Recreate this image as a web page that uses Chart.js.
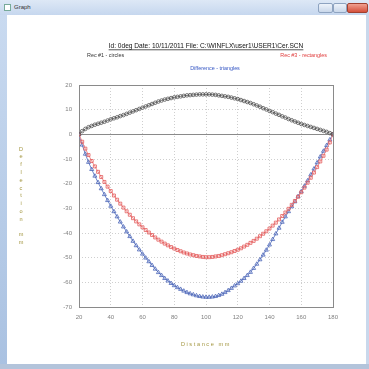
<!DOCTYPE html>
<html><head><meta charset="utf-8">
<script src="https://cdn.jsdelivr.net/npm/chart.js@4.4.1/dist/chart.umd.min.js"></script>
<style>
html,body{margin:0;padding:0;width:369px;height:369px;overflow:hidden;background:#fff;font-family:"Liberation Sans",Arial,sans-serif;}
#titlebar{position:absolute;left:0;top:0;width:369px;height:15px;background:linear-gradient(#dde8f6,#c6d7ee);}
#tbtext{position:absolute;left:14px;top:4px;font-size:6px;color:#333;}
#icon{position:absolute;left:4px;top:4px;width:5px;height:5px;border:1px solid #7a9;background:#fff;}
.btn{position:absolute;top:3px;height:8px;border:1px solid #8ea3c0;border-radius:2px;background:linear-gradient(#eef3fa,#c9d7ea);}
#lframe{position:absolute;left:0;top:15px;width:7px;height:354px;background:linear-gradient(#c9daf0,#a9c1e1);}
#rframe{position:absolute;left:366px;top:15px;width:3px;height:354px;background:#c9d8ec;}
#bframe{position:absolute;left:0;top:364px;width:369px;height:5px;background:#b3c4db;}
canvas{position:absolute;left:0;top:0;}
</style></head>
<body>
<div id="titlebar"><div id="icon"></div><div id="tbtext">Graph</div>
<div class="btn" style="left:318px;width:13px"></div>
<div class="btn" style="left:333px;width:12px"></div>
<div class="btn" style="left:347px;width:19px;background:linear-gradient(#f0a090,#d4503c);border-color:#a04030"></div>
</div>
<div id="lframe"></div><div id="rframe"></div><div id="bframe"></div>
<canvas id="c" width="369" height="369"></canvas>
<script>
const titleText = "Id: 0deg Date: 10/11/2011 File: C:\\WINFLX\\user1\\USER1\\Cer.SCN";
const seriesNames = ["Rec #1 - circles", "Rec #3 - rectangles", "Difference - triangles"];
const xTitle = "Distance mm";
const yTitle = "Deflection mm";

const distance = [20,22,24,26,28,30,32,34,36,38,40,42,44,46,48,50,52,54,56,58,60,62,64,66,68,70,72,74,76,78,80,82,84,86,88,90,92,94,96,98,100,102,104,106,108,110,112,114,116,118,120,122,124,126,128,130,132,134,136,138,140,142,144,146,148,150,152,154,156,158,160,162,164,166,168,170,172,174,176,178,180];

const rec1 = [0,1.3,2.2,2.9,3.4,3.9,4.3,4.7,5.1,5.6,
6.1,6.5,6.9,7.4,7.8,8.3,8.8,9.3,9.8,10.3,
10.8,11.3,11.8,12.3,12.8,13.3,13.7,14.1,14.4,14.7,
15.0,15.2,15.4,15.6,15.8,15.9,16.0,16.1,16.2,16.2,
16.2,16.2,16.1,16.0,15.8,15.6,15.4,15.2,14.9,14.6,
14.3,13.9,13.5,13.1,12.7,12.2,11.7,11.2,10.6,10.1,
9.5,9.0,8.4,7.9,7.3,6.8,6.2,5.7,5.2,4.7,
4.2,3.8,3.4,3.0,2.6,2.2,1.8,1.4,1.0,0.5,
0];

const rec3 = [0,-3.0,-5.8,-8.4,-10.8,-13.0,-15.2,-17.3,-19.3,-21.2,
-23.0,-24.8,-26.5,-28.1,-29.7,-31.2,-32.6,-34.0,-35.3,-36.5,
-37.7,-38.8,-39.8,-40.8,-41.8,-42.7,-43.5,-44.3,-45.0,-45.7,
-46.3,-46.9,-47.4,-47.9,-48.3,-48.7,-49.0,-49.3,-49.5,-49.7,
-49.8,-49.8,-49.7,-49.5,-49.3,-49.0,-48.6,-48.2,-47.8,-47.3,
-46.8,-46.2,-45.5,-44.8,-44.0,-43.2,-42.3,-41.3,-40.3,-39.3,
-38.2,-37.0,-35.8,-34.5,-33.1,-31.7,-30.2,-28.6,-27.0,-25.3,
-23.5,-21.6,-19.6,-17.6,-15.5,-13.3,-11.0,-8.7,-6.2,-3.3,
0];

const difference = [0,-4.3,-8.0,-11.3,-14.2,-16.9,-19.5,-22.0,-24.4,-26.8,
-29.1,-31.3,-33.4,-35.5,-37.5,-39.5,-41.4,-43.3,-45.1,-46.8,
-48.5,-50.1,-51.6,-53.1,-54.6,-56.0,-57.2,-58.4,-59.4,-60.4,
-61.3,-62.1,-62.8,-63.5,-64.1,-64.6,-65.0,-65.4,-65.7,-65.9,
-66.0,-66.0,-65.9,-65.7,-65.3,-64.8,-64.1,-63.3,-62.4,-61.4,
-60.5,-59.5,-58.4,-57.2,-55.9,-54.3,-52.6,-50.8,-48.9,-46.9,
-44.8,-42.6,-40.3,-38.0,-35.6,-33.4,-31.3,-29.3,-27.3,-25.2,
-23.2,-21.0,-18.8,-16.4,-14.0,-11.5,-9.1,-6.8,-4.5,-2.2,
0];

const FONT = '"Liberation Sans", Arial, sans-serif';
const olive = '#a39640';

const framePlugin = {
  id: 'frame',
  beforeDatasetsDraw(chart) {
    const ctx = chart.ctx, a = chart.chartArea;
    const y0 = chart.scales.y.getPixelForValue(0);
    ctx.save();
    ctx.strokeStyle = '#8a8a8a';
    ctx.lineWidth = 1;
    ctx.strokeRect(Math.round(a.left) + 0.5, Math.round(a.top) + 0.5, Math.round(a.right - a.left), Math.round(a.bottom - a.top));
    ctx.beginPath();
    ctx.moveTo(a.left, Math.round(y0) + 0.5);
    ctx.lineTo(a.right, Math.round(y0) + 0.5);
    ctx.stroke();
    ctx.restore();
  }
};

const textPlugin = {
  id: 'texts',
  afterDraw(chart) {
    const ctx = chart.ctx, a = chart.chartArea;
    const cx = (a.left + a.right) / 2;
    ctx.save();
    ctx.textBaseline = 'middle';
    ctx.font = '6.6px ' + FONT;
    ctx.fillStyle = '#111';
    ctx.textAlign = 'center';
    ctx.fillText(titleText, cx, 46);
    const w = ctx.measureText(titleText).width;
    ctx.fillRect(cx - w / 2, 49.5, w, 0.7);
    ctx.font = '5.4px ' + FONT;
    ctx.textAlign = 'left';
    ctx.fillStyle = '#333';
    ctx.fillText(seriesNames[0], 87, 56);
    ctx.textAlign = 'right';
    ctx.fillStyle = '#e03a3a';
    ctx.fillText(seriesNames[1], 327, 56);
    ctx.textAlign = 'center';
    ctx.fillStyle = '#3556c4';
    ctx.fillText(seriesNames[2], 215, 69);
    ctx.font = '5.6px ' + FONT;
    ctx.fillStyle = olive;
    yTitle.split('').forEach((ch, i) => ctx.fillText(ch, 21, 149 + i * 7.8));
    ctx.letterSpacing = '1.6px';
    ctx.fillText(xTitle, cx, 344);
    ctx.restore();
  }
};

new Chart(document.getElementById('c'), {
  type: 'line',
  data: {
    labels: distance,
    datasets: [
      { label: seriesNames[0], data: rec1, borderColor: '#6a6a6a', borderWidth: 1,
        pointStyle: 'circle', pointRadius: 1.8, pointBorderColor: '#555', pointBorderWidth: 0.8,
        pointBackgroundColor: 'rgba(255,255,255,0)', tension: 0 },
      { label: seriesNames[1], data: rec3, borderColor: '#ef8f8f', borderWidth: 1,
        pointStyle: 'rect', pointRadius: 2.1, pointBorderColor: '#e35a5a', pointBorderWidth: 0.8,
        pointBackgroundColor: 'rgba(255,255,255,0)', tension: 0 },
      { label: seriesNames[2], data: difference, borderColor: '#6f86c8', borderWidth: 1,
        pointStyle: 'triangle', pointRadius: 2.3, pointBorderColor: '#4a64b8', pointBorderWidth: 0.8,
        pointBackgroundColor: 'rgba(255,255,255,0)', tension: 0 }
    ]
  },
  options: {
    responsive: false,
    animation: false,
    devicePixelRatio: 1,
    layout: { padding: { left: 0, right: 36, top: 85, bottom: 0 } },
    plugins: { legend: { display: false }, title: { display: false }, tooltip: { enabled: false } },
    scales: {
      x: {
        type: 'linear', min: 20, max: 180,
        ticks: { stepSize: 20, color: '#808080', padding: 7, font: { size: 6, family: FONT }, maxRotation: 0 },
        grid: { color: '#cfcfcf', drawTicks: false, lineWidth: 1 },
        border: { display: false, dash: [1, 2] },
        afterFit(s) { s.height = 62; }
      },
      y: {
        type: 'linear', min: -70, max: 20,
        ticks: { stepSize: 10, color: '#808080', padding: 7, font: { size: 6, family: FONT } },
        grid: { color: '#cfcfcf', drawTicks: false, lineWidth: 1 },
        border: { display: false, dash: [1, 2] },
        afterFit(s) { s.width = 79; }
      }
    }
  },
  plugins: [framePlugin, textPlugin]
});
</script>
</body></html>
